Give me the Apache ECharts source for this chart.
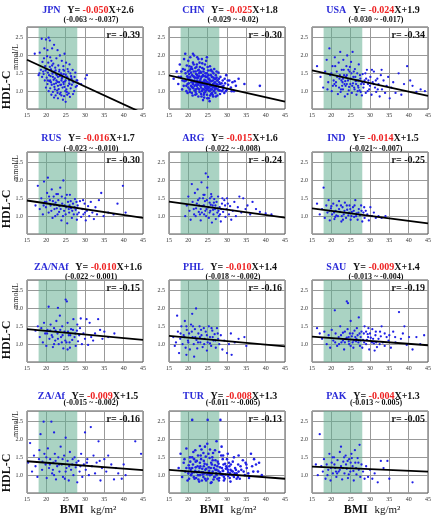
<!DOCTYPE html>
<html lang="en">
<head>
<meta charset="UTF-8">
<title>HDL-C vs BMI</title>
<script src="https://cdn.jsdelivr.net/npm/echarts@6/dist/echarts.min.js"></script>
<style>
  html, body { margin: 0; padding: 0; background: #fff; }
  #main { width: 434px; height: 517px; }
</style>
</head>
<body>
<div id="main"></div>
<script>
// panel labels, regression text and r values
var names = ['JPN', 'CHN', 'USA', 'RUS', 'ARG', 'IND', 'ZA/NAf', 'PHL', 'SAU', 'ZA/Af', 'TUR', 'PAK'];
var slopes = ['-0.050', '-0.025', '-0.024', '-0.016', '-0.015', '-0.014', '-0.010', '-0.010', '-0.009', '-0.009', '-0.008', '-0.004'];
var intercepts = ['+2.6', '+1.8', '+1.9', '+1.7', '+1.6', '+1.5', '+1.6', '+1.4', '+1.4', '+1.5', '+1.3', '+1.3'];
var cis = ['(-0.063 ~ -0.037)', '(-0.029 ~ -0.02)', '(-0.030 ~ -0.017)', '(-0.023 ~ -0.010)', '(-0.022 ~ -0.008)', '(-0.021~ -0.007)',
           '(-0.022 ~ 0.001)', '(-0.018 ~ -0.002)', '(-0.013 ~ -0.004)', '(-0.015 ~ -0.002)', '(-0.011 ~ -0.005)', '(-0.013 ~ 0.005)'];
var rValues = ['-0.39', '-0.30', '-0.34', '-0.30', '-0.24', '-0.25', '-0.15', '-0.16', '-0.19', '-0.16', '-0.13', '-0.05'];
// fitted line, HDL-C at BMI 15 and BMI 45
var lineStart = [1.88, 1.44, 1.58, 1.44, 1.41, 1.22, 1.42, 1.23, 1.21, 1.39, 1.15, 1.24];
var lineEnd = [0.38, 0.71, 0.87, 0.95, 0.96, 0.80, 1.12, 0.94, 0.97, 1.14, 0.90, 1.10];
var bandRange = [18, 28];
var xTicks = [15, 45, 5];

// scatter points, flat [bmi, hdl, bmi, hdl, ...]
var jpn = [17.0,2.05, 18.3,2.08, 18.8,2.47, 19.9,2.45, 20.6,2.5, 20.9,2.42, 19.5,2.2, 21.5,2.2, 22.0,2.3, 20.2,1.98, 21.0,1.95, 22.6,1.92, 23.5,2.0, 19.0,1.82, 20.5,1.8, 21.8,1.77, 24.0,1.85, 25.1,1.8, 19.7,1.7, 20.9,1.68, 22.3,1.66, 23.1,1.72, 24.4,1.7, 26.0,1.75, 18.6,1.6, 19.8,1.58, 21.2,1.61, 22.0,1.55, 23.4,1.6, 24.6,1.57, 25.5,1.62, 26.8,1.6, 18.2,1.5, 19.3,1.48, 20.4,1.52, 21.6,1.49, 22.7,1.45, 23.8,1.5, 25.0,1.46, 26.2,1.5, 27.5,1.52, 18.9,1.4, 20.1,1.38, 21.1,1.42, 22.2,1.36, 23.0,1.4, 24.1,1.38, 25.3,1.41, 26.5,1.36, 27.8,1.3, 19.6,1.3, 20.8,1.28, 21.9,1.32, 22.9,1.26, 23.9,1.3, 24.8,1.27, 25.9,1.3, 27.0,1.25, 28.3,1.22, 20.3,1.2, 21.4,1.18, 22.5,1.22, 23.6,1.17, 24.5,1.2, 25.6,1.15, 26.6,1.18, 27.6,1.12, 19.9,1.1, 21.0,1.08, 22.1,1.12, 23.2,1.06, 24.2,1.1, 25.2,1.05, 26.3,1.08, 20.6,1.0, 21.7,0.98, 22.8,1.02, 23.7,0.96, 24.9,1.0, 25.8,0.94, 27.2,1.0, 21.3,0.9, 22.4,0.88, 23.5,0.92, 24.6,0.86, 25.4,0.9, 26.1,0.84, 23.0,0.8, 24.3,0.76, 25.0,0.7, 22.0,0.82, 26.9,0.92, 30.5,1.45, 30.1,1.35, 29.0,1.2, 28.0,1.3, 24.7,2.05, 22.9,2.15, 21.3,1.85, 23.3,1.55, 24.0,1.45, 22.4,1.58, 21.7,1.4, 20.7,1.45, 19.2,1.55, 18.0,1.45, 26.4,1.42, 27.3,1.4, 25.7,1.55, 24.4,1.25, 23.8,1.18, 22.6,1.3, 25.9,1.22, 20.0,1.62, 21.5,1.72,
    21.0,1.3, 22.0,1.2, 23.0,1.15, 24.0,1.35, 25.0,1.3, 21.5,1.55, 22.5,1.48, 23.5,1.42, 24.5,1.48, 25.5,1.38, 26.0,1.2, 22.2,1.05, 23.3,1.25, 24.7,1.12, 20.4,1.3, 25.3,0.98, 26.7,1.3, 27.9,1.15, 19.4,1.92, 20.3,2.15, 23.9,0.88, 22.9,0.95, 24.4,1.6, 21.2,1.25];
var chn = [16.2,1.35, 17.0,1.55, 17.4,1.2, 17.8,1.75, 18.1,1.4, 18.4,1.05, 18.6,1.62, 18.9,1.9, 19.0,1.28, 19.2,2.05, 19.3,1.5, 19.5,1.15, 19.6,1.72, 19.8,0.95, 19.9,1.38, 20.0,1.85, 20.1,1.22, 20.3,1.58, 20.4,1.05, 20.5,1.95, 20.6,1.32, 20.8,1.68, 20.9,1.12, 21.0,1.45, 21.1,0.88, 21.2,1.8, 21.3,1.25, 21.4,1.55, 21.5,2.0, 21.6,1.02, 21.7,1.38, 21.8,1.65, 21.9,1.18, 22.0,1.48, 22.1,0.92, 22.2,1.75, 22.3,1.3, 22.4,1.08, 22.5,1.58, 22.6,1.9, 22.7,1.22, 22.8,1.42, 22.9,0.98, 23.0,1.68, 23.1,1.15, 23.2,1.35, 23.3,1.52, 23.4,0.85, 23.5,1.25, 23.6,1.78, 23.7,1.05, 23.8,1.45, 23.9,1.18, 24.0,1.62, 24.1,0.95, 24.2,1.32, 24.3,1.12, 24.4,1.5, 24.5,1.02, 24.6,1.85, 24.7,1.25, 24.8,0.9, 24.9,1.4, 25.0,1.08, 25.1,1.58, 25.2,1.2, 25.3,0.8, 25.4,1.35, 25.5,1.0, 25.6,1.7, 25.7,1.15, 25.8,1.45, 25.9,0.92, 26.0,1.28, 26.1,1.05, 26.2,1.55, 26.3,1.18, 26.4,0.85, 26.5,1.38, 26.6,1.0, 26.7,1.62, 26.8,1.12, 26.9,1.25, 27.0,0.95, 27.1,1.45, 27.2,1.08, 27.4,1.3, 27.5,0.88, 27.6,1.18, 27.8,1.52, 27.9,1.02, 28.0,1.25, 28.2,0.92, 28.3,1.4, 28.5,1.12, 28.7,1.0, 28.9,1.3, 29.1,1.15, 29.3,0.95, 29.5,1.22, 29.8,1.45, 30.0,1.05, 30.3,1.18, 30.6,1.3, 31.0,1.1, 31.4,1.25, 31.8,1.0, 32.3,1.15, 33.0,1.35, 34.5,1.2, 38.5,1.15, 19.4,1.3, 19.7,1.42, 20.2,1.48, 20.7,1.15, 21.0,1.62, 21.3,1.08, 21.6,1.3, 21.9,1.55, 22.2,1.15, 22.5,1.38, 22.8,1.05, 23.1,1.55, 23.4,1.4, 23.7,1.2, 24.0,1.28, 24.3,1.42, 24.6,1.08, 24.9,1.2, 25.2,1.35, 25.5,1.22, 25.8,1.05, 26.1,1.4, 26.4,1.2, 26.7,1.1, 27.0,1.35, 27.3,1.2, 27.6,1.05, 27.9,1.35, 28.2,1.2, 20.5,1.4, 21.2,1.2, 22.0,1.25, 22.7,1.6, 23.3,1.1, 23.9,1.55, 24.5,1.3, 25.1,1.12, 25.7,1.3, 26.3,1.12, 26.9,1.05, 23.5,1.0, 24.2,1.18, 24.8,1.5, 25.4,1.1, 22.3,1.45, 21.5,1.4, 20.8,1.25, 26.0,1.15, 25.0,1.25, 24.0,1.05, 23.0,1.3, 22.0,1.05, 27.2,1.15, 24.4,0.98, 25.9,1.6, 20.3,1.7, 19.1,1.6, 18.5,1.3,
    19.5,1.0, 19.8,1.2, 20.1,1.35, 20.4,0.98, 20.7,1.52, 21.0,1.3, 21.3,1.42, 21.6,1.15, 21.9,0.98, 22.2,1.38, 22.5,1.18, 22.8,1.5, 23.1,1.28, 23.4,1.18, 23.7,1.42, 24.0,0.9, 24.3,1.22, 24.6,1.4, 24.9,1.05, 25.2,1.45, 25.5,1.3, 25.8,1.15, 26.1,0.95, 26.4,1.3, 26.7,1.22, 27.0,1.15, 27.3,1.38, 27.6,1.3, 27.9,1.12, 28.2,1.02, 28.6,1.22, 29.0,1.05, 29.4,1.35, 19.9,1.55, 20.6,1.62, 21.4,1.75, 22.1,1.68, 22.9,1.8, 23.6,1.65, 24.3,1.75, 25.0,1.68, 25.7,1.58, 26.5,1.5, 27.3,1.55, 20.9,0.95, 21.8,0.9, 22.6,0.85, 23.3,0.92, 24.1,0.82, 24.9,0.8, 25.6,0.88, 26.3,0.9, 27.1,0.85, 23.8,0.75, 25.5,0.72, 22.4,1.22, 23.2,1.2, 24.7,1.15, 25.3,1.02, 26.8,1.35, 21.1,1.1, 20.0,1.1, 28.8,1.12, 30.2,1.3, 31.2,1.0, 32.0,1.28, 29.7,1.0, 18.8,1.15, 18.2,1.55, 17.5,1.4, 23.5,1.9, 22.3,1.95, 24.8,1.95, 21.2,2.05];
var usa = [16.3,1.7, 17.2,1.4, 17.9,1.1, 18.4,1.55, 18.8,1.88, 19.2,1.25, 19.5,2.2, 19.7,1.45, 20.1,1.0, 20.3,1.7, 20.6,1.3, 20.9,1.95, 21.2,1.15, 21.4,1.55, 21.7,0.92, 21.9,1.8, 22.1,1.35, 22.3,2.1, 22.5,1.05, 22.7,1.6, 22.9,1.25, 23.1,1.88, 23.3,1.45, 23.5,0.85, 23.7,1.15, 23.9,1.7, 24.1,2.0, 24.3,1.3, 24.5,1.02, 24.7,1.55, 24.9,1.2, 25.1,1.82, 25.3,0.95, 25.5,2.1, 25.7,1.4, 25.9,1.1, 26.1,1.62, 26.3,1.28, 26.5,0.9, 26.7,1.5, 26.9,1.15, 27.1,1.75, 27.3,1.02, 27.5,1.35, 27.7,1.2, 27.9,0.88, 28.1,1.48, 28.3,1.1, 28.6,1.3, 28.9,0.95, 29.2,1.6, 29.5,1.2, 29.8,1.05, 30.1,1.4, 30.4,0.9, 30.7,1.25, 31.0,1.55, 31.3,1.1, 31.6,0.98, 31.9,1.35, 32.2,1.2, 32.5,0.85, 32.8,1.45, 33.1,1.05, 33.5,1.3, 33.9,0.95, 34.3,1.15, 34.7,1.4, 35.1,0.8, 35.5,1.1, 36.0,1.25, 36.6,0.95, 37.4,1.5, 38.1,0.9, 38.8,1.2, 39.6,1.7, 40.4,1.3, 41.0,1.15, 42.0,0.98, 43.1,1.05, 44.2,1.0, 20.0,1.5, 20.8,1.2, 21.5,1.4, 22.0,1.1, 22.6,1.3, 23.0,1.05, 23.6,1.28, 24.0,1.45, 24.6,1.12, 25.0,1.35, 25.6,1.22, 26.0,1.05, 26.6,1.3, 27.0,1.1, 27.6,0.98, 28.0,1.25, 21.0,1.7, 23.2,1.6, 25.2,1.5, 24.2,0.92, 26.2,1.4, 22.4,0.98, 19.0,1.05, 28.8,1.5, 30.5,1.6, 29.0,1.35, 33.0,1.6, 31.5,1.3, 24.8,1.68, 23.8,1.4,
    21.2,1.25, 22.2,1.45, 23.4,1.2, 24.4,1.6, 25.4,1.15, 26.4,1.2, 27.4,1.45, 28.4,1.2, 29.4,1.0, 30.0,1.15, 31.0,1.2, 32.0,1.05, 23.0,1.35, 25.8,1.55, 27.0,1.3, 24.0,1.2, 22.8,1.15, 26.8,1.0, 20.4,1.15, 29.6,1.3];
var rus = [17.2,1.3, 17.8,1.85, 18.3,1.2, 18.7,1.5, 19.1,1.05, 19.4,1.97, 19.6,1.4, 19.9,1.25, 20.2,1.65, 20.4,2.08, 20.6,1.1, 20.9,1.45, 21.1,1.3, 21.4,1.75, 21.6,0.95, 21.9,1.55, 22.1,1.2, 22.4,1.38, 22.6,1.62, 22.9,1.05, 23.1,1.45, 23.4,1.28, 23.6,1.8, 23.9,0.88, 24.1,1.35, 24.4,2.0, 24.6,1.15, 24.9,1.5, 25.1,1.25, 25.4,0.8, 25.6,1.4, 25.9,1.1, 26.1,1.6, 26.4,1.22, 26.6,0.95, 26.9,1.35, 27.1,1.05, 27.4,1.48, 27.6,1.18, 27.9,0.9, 28.1,1.3, 28.4,1.1, 28.7,1.42, 29.0,0.98, 29.3,1.2, 29.6,1.05, 29.9,1.35, 30.2,0.88, 30.5,1.15, 30.8,1.28, 31.1,1.0, 31.5,1.4, 31.9,1.1, 32.3,0.92, 32.7,1.25, 33.1,1.05, 33.6,1.45, 34.2,1.65, 34.8,1.0, 36.0,1.1, 37.4,1.05, 38.4,1.35, 39.8,1.85, 40.5,1.1, 20.0,1.4, 20.7,1.55, 21.3,1.15, 22.0,1.32, 22.7,1.22, 23.3,1.12, 24.0,1.55, 24.7,1.3, 25.3,1.6, 26.0,1.3, 26.7,1.15, 27.3,1.25, 28.0,1.05, 21.7,1.42, 23.7,1.2, 25.8,1.2, 22.3,1.0, 24.3,1.0, 26.3,1.42, 27.8,1.4, 19.3,1.3, 23.0,1.62, 25.0,1.05, 29.5,1.45, 30.0,1.1];
var arg = [19.2,1.0, 19.6,1.3, 20.0,1.55, 20.3,1.15, 20.6,0.9, 20.9,1.9, 21.1,1.4, 21.4,1.2, 21.7,1.65, 21.9,1.0, 22.2,1.35, 22.4,1.75, 22.7,1.12, 22.9,1.5, 23.2,0.88, 23.4,1.95, 23.6,1.28, 23.9,1.6, 24.1,1.05, 24.3,1.42, 24.5,2.2, 24.7,1.2, 24.9,1.8, 25.1,2.1, 25.3,0.95, 25.5,1.38, 25.7,1.15, 25.9,1.62, 26.1,0.82, 26.3,1.3, 26.5,1.05, 26.7,1.48, 26.9,1.2, 27.1,0.92, 27.3,1.4, 27.5,1.1, 27.7,1.55, 27.9,1.0, 28.1,1.25, 28.4,0.85, 28.7,1.35, 29.0,1.12, 29.3,1.45, 29.6,0.98, 29.9,1.2, 30.2,1.35, 30.5,1.05, 30.8,1.28, 31.1,0.9, 31.5,1.15, 31.9,1.4, 32.3,1.0, 32.8,1.25, 33.2,1.55, 33.7,1.1, 34.2,1.5, 34.8,1.2, 35.3,1.3, 36.0,1.05, 36.6,1.4, 37.5,1.2, 38.5,1.12, 40.0,1.08, 41.5,1.05, 22.0,1.22, 22.8,1.3, 23.5,1.1, 24.0,1.3, 24.6,1.0, 25.2,1.25, 25.8,1.32, 26.4,1.18, 27.0,1.3, 27.6,1.22, 28.2,1.05, 23.0,1.05, 24.8,1.45, 26.0,1.55, 28.8,1.5, 30.0,1.5, 23.8,1.5, 21.5,1.05,
    23.2,1.2, 24.4,1.15, 25.5,1.1, 26.6,1.38, 27.8,1.15, 29.5,1.3, 24.2,1.6, 25.6,1.5, 22.5,1.45, 28.5,1.2];
var ind = [16.3,1.35, 17.0,1.05, 17.6,1.2, 18.0,1.8, 18.3,0.95, 18.7,1.3, 19.0,1.1, 19.3,1.45, 19.6,0.88, 19.9,1.22, 20.2,1.05, 20.5,1.35, 20.8,0.92, 21.1,1.15, 21.4,1.3, 21.7,1.0, 22.0,1.42, 22.3,1.12, 22.6,0.85, 22.9,1.25, 23.2,1.05, 23.5,1.38, 23.8,0.95, 24.1,1.18, 24.4,1.02, 24.7,1.3, 25.0,0.9, 25.3,1.12, 25.6,1.25, 25.9,0.98, 26.2,1.45, 26.5,1.08, 26.8,0.9, 27.1,1.2, 27.4,1.02, 27.7,1.3, 28.0,0.85, 28.3,1.1, 28.6,0.95, 28.9,1.15, 29.3,1.05, 29.7,0.88, 30.1,1.25, 30.5,1.0, 31.0,1.1, 31.5,0.95, 32.2,1.0, 33.0,0.95, 34.0,1.0, 19.5,1.15, 20.0,1.28, 20.7,1.1, 21.3,1.02, 22.0,1.2, 22.7,1.0, 23.4,1.15, 24.0,1.3, 24.6,1.1, 25.2,1.0, 25.8,1.15, 26.4,1.0, 27.0,1.1, 21.0,0.98, 23.0,0.9, 24.9,1.2, 26.0,1.3, 27.8,1.15, 28.5,1.25, 22.5,1.3];
var zanaf = [17.2,1.38, 17.8,1.5, 18.3,1.2, 18.7,1.45, 19.1,1.05, 19.4,1.6, 19.7,1.3, 20.0,0.95, 20.3,1.4, 20.6,2.05, 20.8,1.15, 21.1,1.55, 21.4,1.25, 21.7,0.92, 22.0,1.45, 22.3,1.1, 22.6,1.65, 22.9,1.3, 23.0,2.02, 23.2,1.0, 23.5,1.8, 23.8,1.2, 24.1,1.5, 24.4,0.88, 24.7,1.35, 25.0,2.25, 25.3,2.2, 25.2,1.05, 25.5,1.6, 25.8,1.25, 26.1,0.9, 26.4,1.42, 26.7,1.12, 27.0,1.7, 27.3,1.2, 27.6,0.95, 27.9,1.38, 28.2,1.08, 28.5,1.25, 28.9,1.72, 29.2,1.0, 29.6,1.3, 30.0,1.15, 30.4,1.7, 30.8,0.98, 31.2,1.6, 31.6,1.2, 32.1,1.1, 32.6,1.3, 33.4,1.7, 33.9,1.4, 34.5,1.15, 35.0,1.35, 36.0,1.2, 37.6,1.3, 20.2,1.3, 21.0,1.38, 21.6,1.2, 22.4,1.38, 23.0,1.15, 23.6,1.4, 24.2,1.25, 24.9,1.1, 25.6,1.35, 26.2,1.25, 26.9,1.4, 27.5,1.3, 28.0,1.55, 24.0,1.05, 26.0,1.05, 22.0,1.0, 25.5,0.85, 28.7,1.45];
var phl = [16.1,1.2, 16.5,0.95, 16.8,1.05, 17.1,1.8, 17.3,1.35, 17.6,0.75, 17.9,1.15, 18.2,1.5, 18.5,1.0, 18.8,1.25, 19.1,1.65, 19.3,0.9, 19.5,0.7, 19.6,1.4, 19.9,1.1, 20.2,1.3, 20.4,0.85, 20.7,1.55, 21.0,1.85, 21.1,1.2, 21.4,1.0, 21.5,0.65, 21.7,1.42, 22.0,2.0, 22.1,1.12, 22.3,0.88, 22.6,1.3, 22.9,1.5, 23.1,1.05, 23.4,1.25, 23.7,0.92, 24.0,1.45, 24.2,1.15, 24.5,1.35, 24.8,0.82, 25.0,1.05, 25.3,1.5, 25.6,1.2, 25.9,0.95, 26.2,1.38, 26.5,1.1, 26.8,1.28, 27.1,0.9, 27.4,1.45, 27.7,1.15, 28.0,1.0, 28.4,1.25, 28.8,0.85, 29.3,1.1, 30.0,0.75, 30.5,1.0, 31.0,1.3, 31.2,0.7, 32.0,1.05, 33.0,1.15, 34.5,1.2, 35.0,0.95, 18.0,1.3, 19.0,1.2, 20.0,1.05, 20.9,1.35, 21.8,1.2, 22.5,1.05, 23.3,1.4, 24.1,1.0, 24.8,1.25, 25.6,1.02, 26.3,1.2, 27.0,1.1, 23.0,1.2, 21.2,1.5, 19.5,1.5, 26.0,1.45, 27.6,1.3];
var sau = [16.3,1.45, 17.0,1.3, 17.6,1.15, 18.2,1.35, 18.8,1.0, 19.3,1.25, 19.7,0.9, 20.1,1.4, 20.5,1.1, 20.9,1.95, 21.1,1.3, 21.5,0.95, 21.9,1.2, 22.3,1.5, 22.6,1.05, 23.0,1.32, 23.3,0.85, 23.7,1.15, 24.0,2.2, 24.3,2.15, 24.2,1.42, 24.6,1.0, 25.0,1.65, 25.3,1.22, 25.7,0.9, 26.0,1.38, 26.4,1.08, 26.8,1.25, 27.1,1.75, 27.4,0.95, 27.8,1.35, 28.2,1.12, 28.6,1.5, 29.0,1.0, 29.4,1.28, 29.8,0.85, 30.2,1.18, 30.6,1.42, 31.0,1.02, 31.4,1.25, 31.8,0.92, 32.2,1.15, 32.6,1.35, 33.0,1.5, 33.3,1.05, 33.8,0.95, 34.3,1.2, 34.8,1.1, 35.4,0.9, 36.0,1.35, 36.6,1.05, 37.5,1.9, 38.0,1.15, 38.9,1.5, 39.5,0.98, 40.1,1.2, 41.0,0.85, 42.0,1.2, 43.0,1.0, 44.0,1.25, 21.0,1.05, 22.0,1.0, 23.0,1.1, 24.0,1.18, 24.8,1.3, 25.5,1.05, 26.2,1.2, 27.0,1.05, 27.6,1.2, 28.4,1.3, 29.2,1.12, 30.0,1.3, 30.8,1.15, 31.6,1.05, 32.5,1.0, 25.0,0.95, 28.0,0.9, 23.5,1.35, 26.6,1.45, 29.6,1.45, 35.0,1.25, 31.2,0.82,
    22.5,1.25, 23.5,1.05, 24.5,1.2, 25.5,1.3, 26.5,1.15, 27.5,1.1, 28.5,1.05, 29.5,1.2, 30.5,1.05, 31.5,1.35, 32.8,1.22, 33.8,1.3, 25.8,1.1, 27.3,1.3, 29.0,1.35, 24.5,1.08, 36.5,1.2, 38.5,1.3];
var zaaf = [15.3,1.35, 15.8,1.9, 16.3,1.1, 16.8,1.55, 17.2,1.25, 17.7,0.95, 18.1,1.45, 18.5,2.15, 18.9,1.15, 19.3,2.5, 19.5,1.6, 19.8,1.3, 20.1,0.92, 20.4,1.75, 20.7,1.2, 21.0,1.45, 21.3,2.5, 21.5,1.05, 21.8,1.35, 22.0,2.2, 22.2,1.6, 22.5,0.88, 22.8,1.25, 23.1,1.5, 23.4,1.1, 23.7,1.8, 24.0,1.3, 24.3,0.95, 24.6,1.55, 25.0,2.05, 25.2,1.2, 25.5,1.4, 25.8,0.85, 26.1,1.65, 26.4,1.15, 26.7,1.3, 27.0,1.0, 27.3,1.5, 27.6,1.22, 28.0,0.8, 28.3,1.4, 28.6,1.1, 29.0,1.6, 29.3,0.95, 29.7,1.3, 30.0,2.2, 30.2,1.15, 30.6,1.45, 31.0,1.0, 31.5,2.35, 31.8,1.25, 32.2,1.55, 32.6,1.05, 33.0,1.35, 33.5,1.95, 34.0,0.85, 34.4,1.2, 35.0,1.45, 35.5,1.1, 36.0,1.55, 36.8,1.3, 37.5,0.88, 38.0,1.2, 38.6,1.05, 39.5,0.9, 40.0,1.3, 40.5,1.0, 43.0,1.95, 44.5,1.6, 19.0,1.38, 20.0,1.5, 20.9,1.3, 21.7,1.15, 22.4,1.4, 23.3,1.3, 24.2,1.45, 25.0,1.1, 25.9,1.25, 26.8,1.45, 27.8,1.35, 24.8,0.9, 22.0,1.0, 28.8,1.25, 30.5,1.35, 18.2,1.7, 33.8,1.4];
var tur = [17.5,1.2, 18.0,1.6, 18.4,0.95, 18.8,1.35, 19.2,1.1, 19.5,1.75, 19.8,0.85, 20.1,1.28, 20.4,1.5, 20.7,1.0, 21.0,2.55, 21.0,1.2, 21.3,1.65, 21.6,0.9, 21.9,1.38, 22.2,1.08, 22.5,1.55, 22.8,0.82, 23.1,1.25, 23.4,1.72, 23.7,1.02, 24.0,1.4, 24.3,0.9, 24.6,1.18, 24.9,1.88, 25.0,2.55, 25.2,1.05, 25.5,1.48, 25.8,0.78, 26.1,1.3, 26.4,1.62, 26.7,0.95, 27.0,1.15, 27.3,1.95, 27.6,1.38, 27.9,0.85, 28.2,1.22, 28.3,2.55, 28.5,1.55, 28.8,1.0, 29.1,1.3, 29.4,0.9, 29.7,1.18, 30.0,1.45, 30.3,0.98, 30.6,1.25, 30.9,0.82, 31.2,1.12, 31.5,1.38, 31.8,0.95, 32.1,1.2, 32.5,1.05, 32.9,1.3, 33.3,0.9, 33.7,1.15, 34.1,1.42, 34.6,1.0, 35.1,1.2, 35.7,0.92, 36.2,1.6, 36.8,1.1, 37.5,1.3, 38.3,1.35, 39.0,1.0, 20.0,1.05, 20.6,1.15, 21.2,1.3, 21.8,1.12, 22.4,1.25, 23.0,1.0, 23.6,1.18, 24.2,1.05, 24.8,1.3, 25.4,1.12, 26.0,1.02, 26.6,1.2, 27.2,1.05, 27.8,1.12, 28.4,1.02, 29.0,1.12, 29.6,1.02, 30.2,1.15, 30.8,1.05, 31.4,1.0, 32.0,1.05, 22.0,0.92, 23.5,0.85, 25.0,0.9, 26.5,0.88, 28.0,0.92, 29.5,1.32, 24.5,1.52, 26.3,1.42, 23.3,1.45, 21.5,1.45, 27.5,1.25, 25.8,1.2, 24.0,1.25, 22.7,1.1, 28.9,1.45, 31.0,1.3, 26.9,1.7, 23.9,1.62, 33.0,1.1, 30.5,1.35,
    20.3,1.2, 20.9,1.05, 21.4,0.95, 21.9,1.22, 22.5,1.0, 23.0,1.35, 23.4,1.08, 23.9,0.95, 24.4,1.15, 24.9,1.02, 25.3,1.22, 25.9,1.35, 26.3,1.1, 26.8,0.95, 27.3,1.15, 27.8,1.32, 28.2,1.08, 28.7,1.2, 29.2,0.95, 29.8,1.25, 30.3,1.08, 30.9,1.15, 31.5,1.1, 32.3,1.15, 32.8,0.95, 33.5,1.25, 34.3,1.1, 35.0,1.3, 35.5,1.05, 22.2,1.4, 23.2,1.55, 24.2,1.32, 25.2,1.6, 26.2,1.5, 27.0,1.42, 28.0,1.65, 29.0,1.55, 30.0,1.2, 21.0,1.5, 20.5,1.38, 19.5,1.2, 19.0,1.45, 22.6,0.88, 24.6,0.85, 26.0,0.8, 27.5,0.9, 29.2,0.85, 30.7,0.92, 32.5,0.9, 25.6,1.72, 24.3,1.8, 23.0,1.82, 21.8,1.7, 28.6,1.8, 30.2,1.6, 31.8,1.5, 33.0,1.55, 34.8,1.35, 36.5,1.25, 37.0,1.45, 38.0,1.1, 25.6,1.0, 26.9,1.28, 28.9,1.12, 27.3,1.0, 23.8,1.08, 22.9,1.2, 21.5,1.08, 20.2,0.9];
var pak = [16.0,1.3, 16.5,1.0, 17.0,2.15, 17.4,1.25, 17.8,1.1, 18.1,1.45, 18.5,0.9, 18.8,1.3, 19.2,1.15, 19.5,1.6, 19.8,0.85, 20.1,1.35, 20.4,1.05, 20.7,1.5, 21.0,1.2, 21.3,0.95, 21.6,1.42, 21.9,1.1, 22.2,1.65, 22.5,1.8, 22.5,1.25, 22.8,0.88, 23.1,1.38, 23.4,1.05, 23.7,1.55, 24.0,1.18, 24.3,0.92, 24.6,1.45, 24.9,1.1, 25.2,1.6, 25.5,1.25, 25.8,0.85, 26.1,1.7, 26.2,1.35, 26.5,1.02, 26.8,1.48, 27.1,1.15, 27.3,1.85, 27.5,0.95, 27.8,1.3, 28.2,1.1, 28.6,0.9, 29.0,1.25, 29.5,0.95, 30.0,1.15, 30.6,0.9, 31.2,1.05, 32.0,0.8, 32.8,1.4, 33.5,1.2, 34.5,1.4, 35.0,0.9, 41.0,0.8, 19.0,1.0, 19.9,1.2, 20.8,1.3, 21.5,1.05, 22.2,1.15, 23.0,1.2, 23.8,1.3, 24.5,1.02, 25.0,1.35, 25.7,1.12, 26.4,1.2, 27.0,1.35, 20.3,1.5, 23.3,1.5, 25.3,1.48, 21.2,1.1, 24.2,1.4];
var pointSets = [jpn, chn, usa, rus, arg, ind, zanaf, phl, sau, zaaf, tur, pak];

// layout
var colLeft = [27, 169, 312];
var rowTop = [27, 152, 280, 411];
var plotW = 116, plotH = 82;
var title1Y = [10, 138, 267, 396];
var title2Y = [20, 149, 277, 403];
var hdlY = [90, 209, 340, 473];
var mmolY = [57, 168, 296, 424];
var bmiX = [88, 228, 372];
var serif = '"Liberation Serif", "DejaVu Serif", serif';

function toPairs(flat) {
    var out = [];
    for (var k = 0; k < flat.length; k += 2) out.push([flat[k], flat[k + 1]]);
    return out;
}

var grids = [], xAxes = [], yAxes = [], series = [], graphics = [];

for (var i = 0; i < 12; i++) {
    var row = Math.floor(i / 3), col = i % 3;
    var pLeft = colLeft[col], pTop = rowTop[row];
    grids.push({left: pLeft, top: pTop, width: plotW, height: plotH, show: true,
        borderColor: '#555', borderWidth: 1, backgroundColor: '#fff'});
    xAxes.push({
        gridIndex: i, type: 'value', min: xTicks[0], max: xTicks[1], interval: xTicks[2],
        axisLine: {show: false}, axisTick: {show: false},
        axisLabel: {fontSize: 6, color: '#333', fontFamily: serif, margin: 3},
        splitLine: {lineStyle: {color: '#999', width: 1}}
    });
    yAxes.push({
        gridIndex: i, type: 'value', min: 0.5, max: 2.8, interval: 0.5,
        axisLine: {show: false}, axisTick: {show: false},
        axisLabel: {fontSize: 6, color: '#333', fontFamily: serif, margin: 4,
            showMinLabel: false, showMaxLabel: false,
            formatter: function (v) { return v.toFixed(1); }},
        splitLine: {lineStyle: {color: '#999', width: 1}}
    });
    var dense = (i === 1 || i === 10);
    series.push({
        type: 'scatter', xAxisIndex: i, yAxisIndex: i,
        data: toPairs(pointSets[i]),
        symbolSize: dense ? 2.6 : 2.3,
        itemStyle: {color: '#1f1fe6', opacity: 1},
        silent: true,
        markArea: {
            silent: true,
            itemStyle: {color: 'rgba(100,175,145,0.55)'},
            data: [[{xAxis: bandRange[0]}, {xAxis: bandRange[1]}]]
        },
        z: 3
    });
    series.push({
        type: 'line', xAxisIndex: i, yAxisIndex: i,
        data: [[xTicks[0], lineStart[i]], [xTicks[1], lineEnd[i]]],
        symbol: 'none', silent: true, clip: true,
        lineStyle: {color: '#000', width: 1.8},
        z: 4
    });

    var cx = pLeft + plotW / 2;
    graphics.push({
        type: 'text', x: cx + 3, y: title1Y[row],
        style: {
            text: '{c|' + names[i] + '}  {k|Y= }{r|' + slopes[i] + '}{k|X' + intercepts[i] + '}',
            align: 'center', verticalAlign: 'middle',
            rich: {
                c: {fill: '#2b2bd8', fontSize: 10, fontWeight: 'bold', fontFamily: serif},
                k: {fill: '#111', fontSize: 10, fontWeight: 'bold', fontFamily: serif},
                r: {fill: '#ee2222', fontSize: 10, fontWeight: 'bold', fontFamily: serif}
            }
        }
    });
    graphics.push({
        type: 'text', x: cx + 6, y: title2Y[row],
        style: {text: cis[i], align: 'center', verticalAlign: 'middle',
            fill: '#111', fontSize: 8, fontWeight: 'bold', fontFamily: serif}
    });
    graphics.push({
        type: 'text', x: pLeft + plotW - 3, y: pTop + 8, z: 10,
        style: {text: 'r= ' + rValues[i], align: 'right', verticalAlign: 'middle',
            fill: '#111', fontSize: 10, fontWeight: 'bold', fontFamily: serif}
    });
}

for (var rr = 0; rr < 4; rr++) {
    graphics.push({
        type: 'text', x: 7, y: hdlY[rr], rotation: Math.PI / 2,
        style: {text: 'HDL-C', align: 'center', verticalAlign: 'middle',
            fill: '#111', fontSize: 12, fontWeight: 'bold', fontFamily: serif}
    });
    graphics.push({
        type: 'text', x: 16, y: mmolY[rr], rotation: Math.PI / 2,
        style: {text: 'mmol/L', align: 'center', verticalAlign: 'middle',
            fill: '#222', fontSize: 8, fontFamily: serif}
    });
}
for (var cc = 0; cc < 3; cc++) {
    graphics.push({
        type: 'text', x: bmiX[cc], y: 510,
        style: {
            text: '{b|BMI}  {n|kg/m²}', align: 'center', verticalAlign: 'middle',
            rich: {
                b: {fill: '#111', fontSize: 12, fontWeight: 'bold', fontFamily: serif},
                n: {fill: '#111', fontSize: 11, fontFamily: serif}
            }
        }
    });
}

var myChart = echarts.init(document.getElementById('main'));
myChart.setOption({
    animation: false,
    backgroundColor: '#fff',
    grid: grids,
    xAxis: xAxes,
    yAxis: yAxes,
    series: series,
    graphic: graphics
});
</script>
</body>
</html>
